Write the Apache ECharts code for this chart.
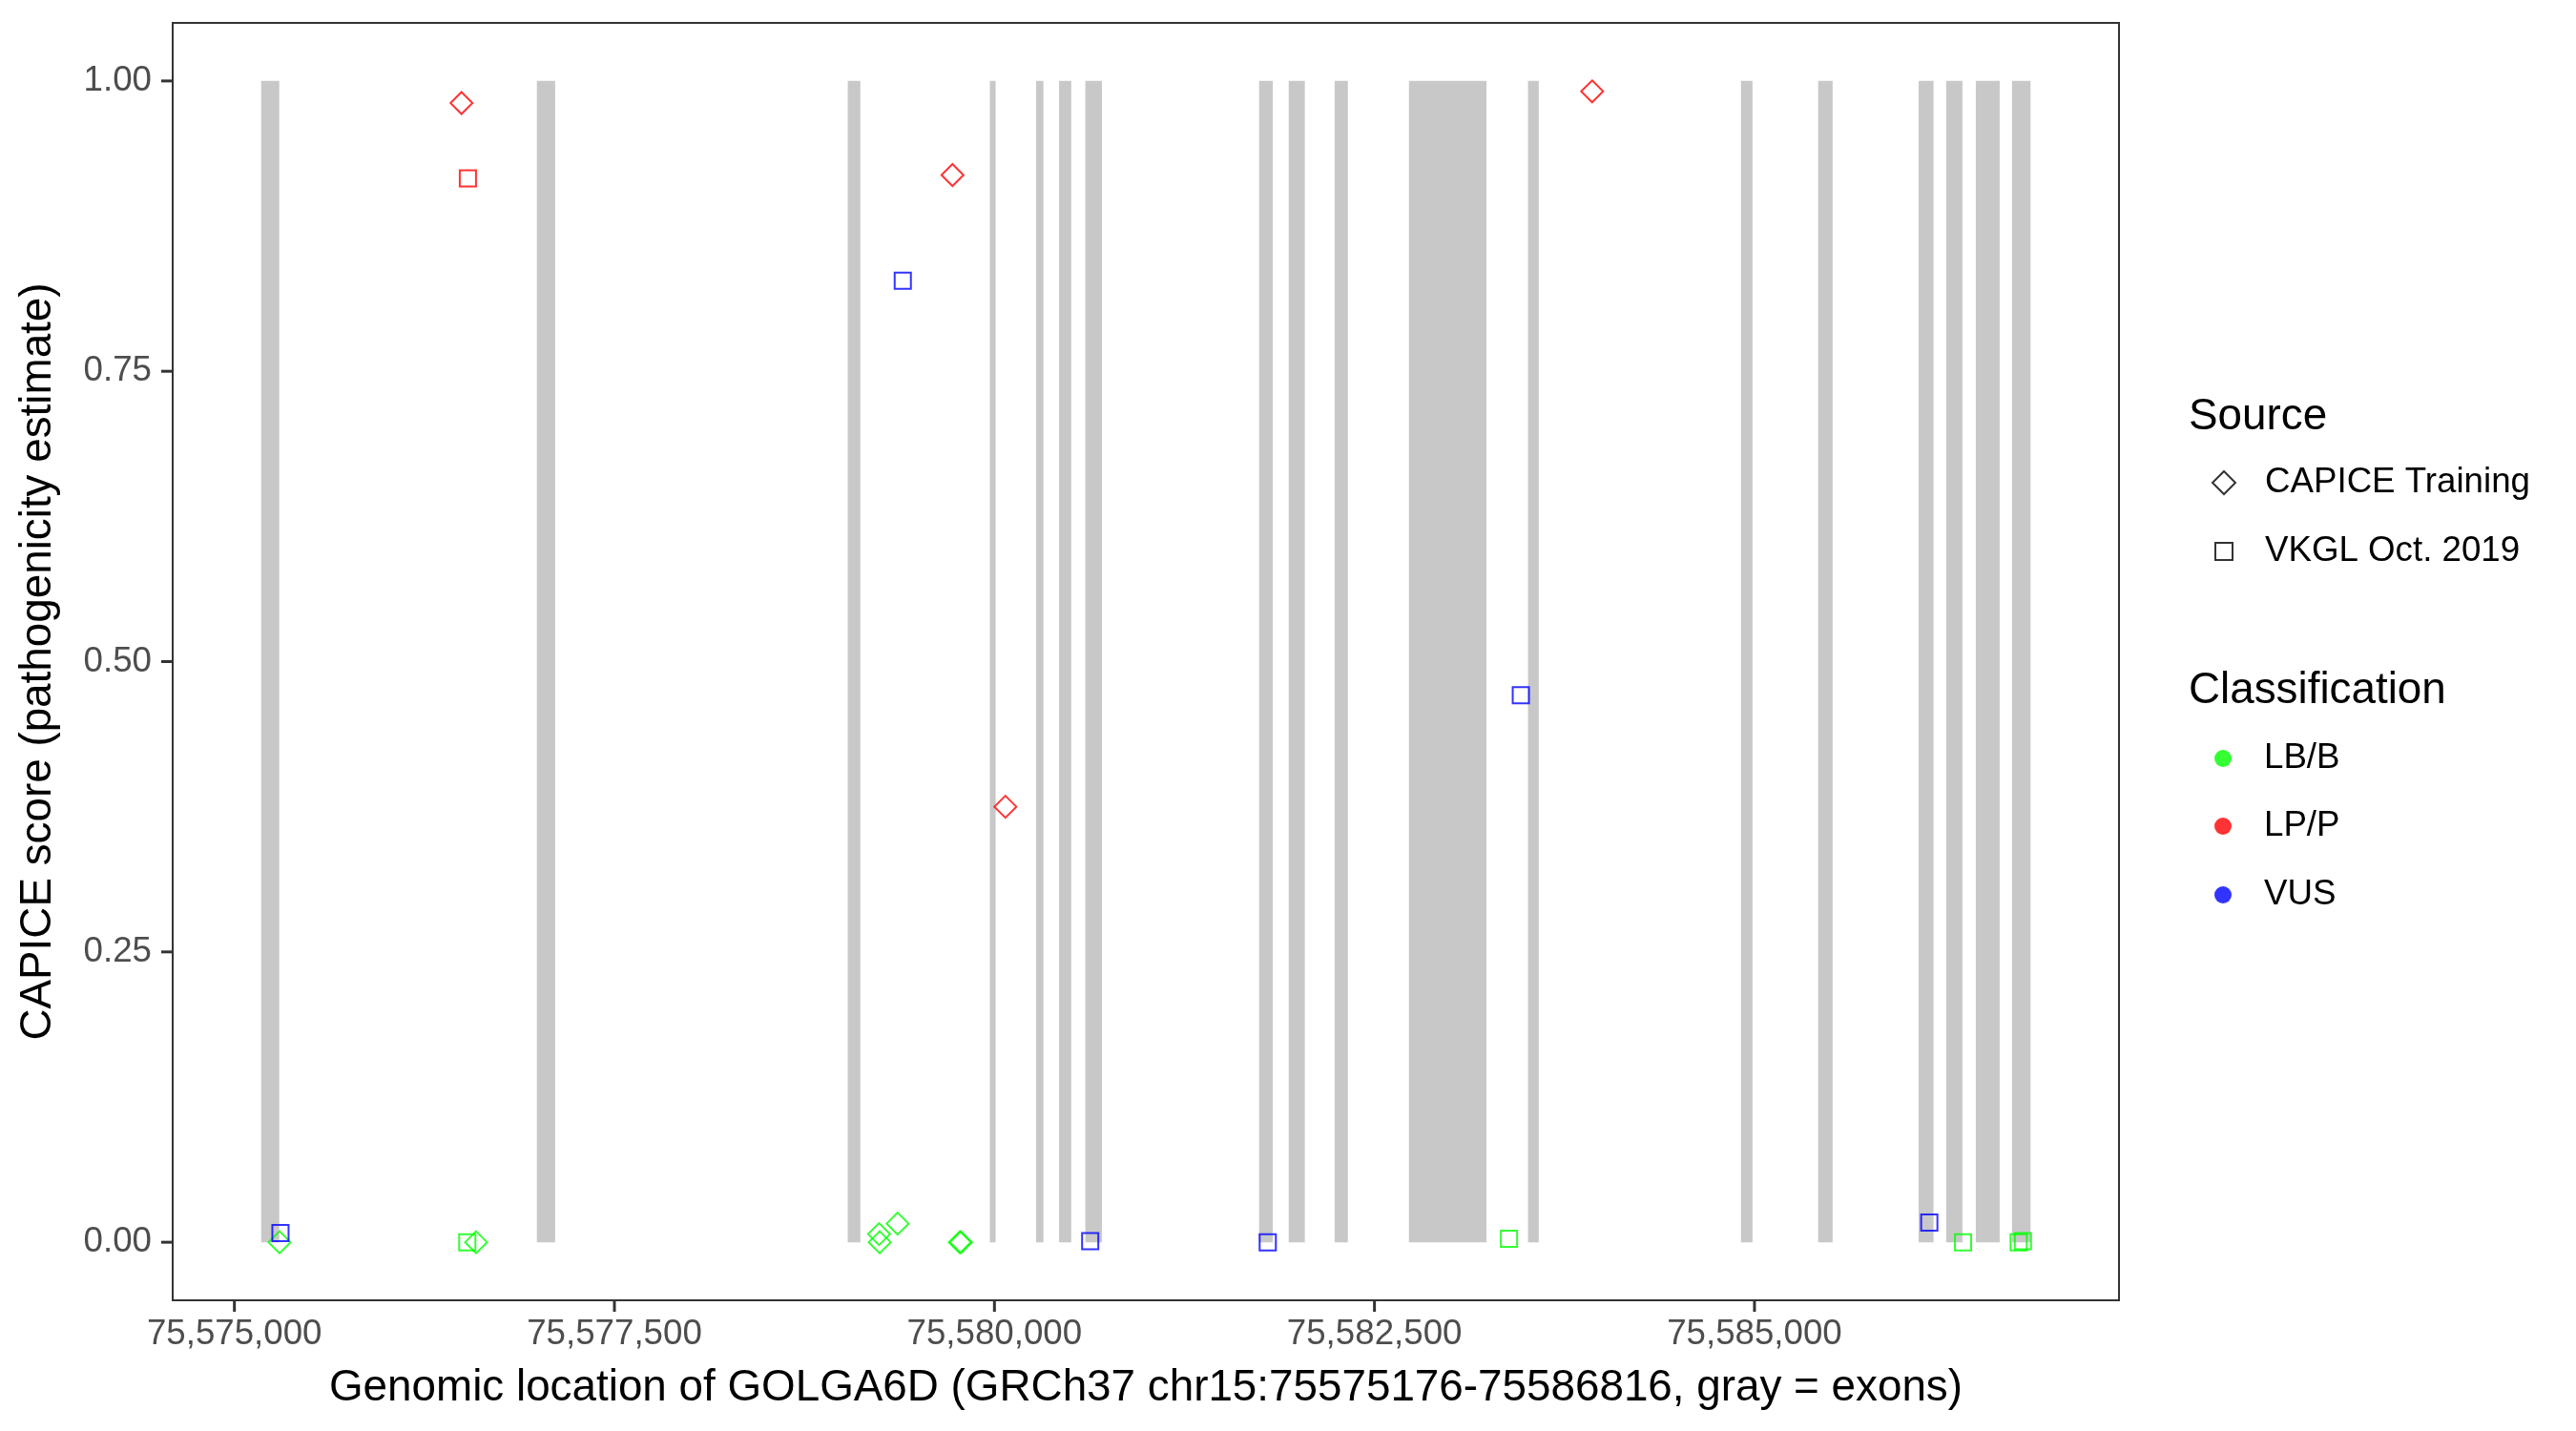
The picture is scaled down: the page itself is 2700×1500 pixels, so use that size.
<!DOCTYPE html>
<html>
<head>
<meta charset="utf-8">
<script src="https://cdn.jsdelivr.net/npm/echarts@6/dist/echarts.min.js"></script>
<style>
  html, body { margin: 0; padding: 0; background: #fff; }
  #chart { width: 2700px; height: 1500px; }
</style>
</head>
<body>
<div id="chart"></div>
<script>
// ---------- data ----------
const exonStart = [75575176, 75576990, 75579035, 75579970, 75580274, 75580425, 75580598, 75581741, 75581936, 75582238, 75582727, 75583510, 75584911, 75585419, 75586080, 75586261, 75586456, 75586694];
const exonEnd   = [75575295, 75577110, 75579118, 75580008, 75580322, 75580505, 75580707, 75581831, 75582042, 75582325, 75583237, 75583581, 75584987, 75585514, 75586178, 75586368, 75586613, 75586816];

// CAPICE Training (diamonds)
const capicePos   = [75576494, 75579724, 75580072, 75583932, 75575297, 75576590, 75579241, 75579245, 75579363, 75579772, 75579780];
const capiceScore = [0.981, 0.919, 0.375, 0.991, 0.000, 0.000, 0.007, 0.000, 0.016, 0.000, 0.000];
const capiceClass = ['LP/P', 'LP/P', 'LP/P', 'LP/P', 'LB/B', 'LB/B', 'LB/B', 'LB/B', 'LB/B', 'LB/B', 'LB/B'];

// VKGL Oct. 2019 (squares)
const vkglPos   = [75576536, 75579397, 75583463, 75575303, 75576532, 75580630, 75581798, 75583385, 75586150, 75586372, 75586738, 75586766];
const vkglScore = [0.916, 0.828, 0.471, 0.008, 0.000, 0.001, 0.000, 0.003, 0.017, 0.000, 0.000, 0.001];
const vkglClass = ['LP/P', 'VUS', 'VUS', 'VUS', 'LB/B', 'VUS', 'VUS', 'LB/B', 'VUS', 'LB/B', 'LB/B', 'LB/B'];

const classNames = ['LB/B', 'LP/P', 'VUS'];
const sourceNames = ['CAPICE Training', 'VKGL Oct. 2019'];
const xTicks = [75575000, 75577500, 75580000, 75582500, 75585000];
const yTicks = [0, 0.25, 0.5, 0.75, 1];
const xRange = [75574594, 75587398];
const yRange = [-0.05, 1.05];

// ---------- styles ----------
const FONT = '"Liberation Sans", Arial, Helvetica, sans-serif';
const classColor = { 'LB/B': '#00FF00', 'LP/P': '#FF0000', 'VUS': '#0000FF' };
const EXON = '#C8C8C8';
const CLEAR = 'rgba(0,0,0,0)';
const INK = '#333333';
const TICK_LEN = 12;

function fmtThousands(v) {
  const s = String(Math.round(v));
  return s.replace(/\B(?=(\d{3})+(?!\d))/g, ',');
}

const exonData = exonStart.map((s, i) => [s, exonEnd[i], 0, 1]);

function pointData(pos, score, cls) {
  return pos.map((p, i) => ({
    value: [p, score[i]],
    itemStyle: { color: CLEAR, borderColor: classColor[cls[i]], borderWidth: 2 }
  }));
}

const chart = echarts.init(document.getElementById('chart'), null, { renderer: 'canvas' });

const legendText = { fontFamily: FONT, fontSize: 36.7, color: '#000000' };

const option = {
  animation: false,
  backgroundColor: '#ffffff',
  title: [
    { text: 'Source', left: 2294, top: 414, padding: 0,
      textStyle: { fontFamily: FONT, fontSize: 45.8, fontWeight: 'normal', color: '#000', lineHeight: 46 } },
    { text: 'Classification', left: 2294, top: 701, padding: 0,
      textStyle: { fontFamily: FONT, fontSize: 45.8, fontWeight: 'normal', color: '#000', lineHeight: 46 } }
  ],
  legend: [
    { data: [{ name: 'CAPICE Training', icon: 'diamond', itemStyle: { color: CLEAR, borderColor: '#000', borderWidth: 2 } }],
      left: 2318, top: 487.5, itemWidth: 24, itemHeight: 24, padding: 0, selectedMode: false,
      textStyle: Object.assign({ padding: [0, 0, 0, 26] }, legendText) },
    { data: [{ name: 'VKGL Oct. 2019', icon: 'rect', itemStyle: { color: CLEAR, borderColor: '#000', borderWidth: 2 } }],
      left: 2321, top: 559.5, itemWidth: 18, itemHeight: 18, padding: 0, selectedMode: false,
      textStyle: Object.assign({ padding: [0, 0, 0, 29] }, legendText) },
    { data: [{ name: 'LB/B', icon: 'circle', itemStyle: { color: classColor['LB/B'], borderWidth: 0 } }],
      left: 2321, top: 776.5, itemWidth: 18, itemHeight: 18, padding: 0, selectedMode: false,
      textStyle: Object.assign({ padding: [0, 0, 0, 29] }, legendText) },
    { data: [{ name: 'LP/P', icon: 'circle', itemStyle: { color: classColor['LP/P'], borderWidth: 0 } }],
      left: 2321, top: 847.5, itemWidth: 18, itemHeight: 18, padding: 0, selectedMode: false,
      textStyle: Object.assign({ padding: [0, 0, 0, 29] }, legendText) },
    { data: [{ name: 'VUS', icon: 'circle', itemStyle: { color: classColor['VUS'], borderWidth: 0 } }],
      left: 2321, top: 919.5, itemWidth: 18, itemHeight: 18, padding: 0, selectedMode: false,
      textStyle: Object.assign({ padding: [0, 0, 0, 29] }, legendText) }
  ],
  grid: {
    left: 181, right: 479, top: 24, bottom: 137,
    show: true, borderColor: INK, borderWidth: 2, backgroundColor: '#ffffff',
    containLabel: false
  },
  xAxis: {
    type: 'value', min: xRange[0], max: xRange[1], position: 'bottom',
    name: 'Genomic location of GOLGA6D (GRCh37 chr15:75575176-75586816, gray = exons)',
    nameLocation: 'middle', nameGap: 69,
    nameTextStyle: { fontFamily: FONT, fontSize: 45.8, color: '#000' },
    axisLine: { show: true, onZero: false, lineStyle: { color: INK, width: 2 } },
    axisTick: { show: false },
    axisLabel: { show: true, margin: 17, fontFamily: FONT, fontSize: 36.7, color: '#4D4D4D',
      customValues: xTicks, formatter: v => fmtThousands(v) },
    splitLine: { show: false }
  },
  yAxis: {
    type: 'value', min: yRange[0], max: yRange[1], position: 'left',
    name: 'CAPICE score (pathogenicity estimate)',
    nameLocation: 'middle', nameGap: 118, nameRotate: 90,
    nameTextStyle: { fontFamily: FONT, fontSize: 45.8, color: '#000' },
    axisLine: { show: true, onZero: false, lineStyle: { color: INK, width: 2 } },
    axisTick: { show: false },
    axisLabel: { show: true, margin: 22, fontFamily: FONT, fontSize: 36.7, color: '#4D4D4D',
      customValues: yTicks, formatter: v => v.toFixed(2) },
    splitLine: { show: false }
  },
  series: [
    {
      name: 'exons', type: 'custom', z: 1, silent: true,
      data: exonData,
      encode: { x: [0, 1], y: [2, 3] },
      renderItem: function (params, api) {
        const p0 = api.coord([api.value(0), api.value(3)]);
        const p1 = api.coord([api.value(1), api.value(2)]);
        return {
          type: 'rect',
          shape: { x: p0[0], y: p0[1], width: p1[0] - p0[0], height: p1[1] - p0[1] },
          style: { fill: EXON }
        };
      }
    },
    {
      name: 'capice-points', type: 'scatter', z: 3, silent: true,
      symbol: 'diamond', symbolSize: 23,
      data: pointData(capicePos, capiceScore, capiceClass)
    },
    {
      name: 'vkgl-points', type: 'scatter', z: 3, silent: true,
      symbol: 'rect', symbolSize: 17,
      data: pointData(vkglPos, vkglScore, vkglClass)
    },
    // outward axis tick marks, placed through the axes' scales
    {
      name: 'x-ticks', type: 'custom', z: 5, silent: true, clip: false,
      data: xTicks.map(v => [v, yRange[0]]),
      encode: { x: 0, y: 1 },
      renderItem: function (params, api) {
        const p = api.coord([api.value(0), api.value(1)]);
        return { type: 'line', shape: { x1: p[0], y1: p[1], x2: p[0], y2: p[1] + TICK_LEN },
          style: { stroke: INK, lineWidth: 3 } };
      }
    },
    {
      name: 'y-ticks', type: 'custom', z: 5, silent: true, clip: false,
      data: yTicks.map(v => [xRange[0], v]),
      encode: { x: 0, y: 1 },
      renderItem: function (params, api) {
        const p = api.coord([api.value(0), api.value(1)]);
        return { type: 'line', shape: { x1: p[0] - TICK_LEN, y1: p[1], x2: p[0], y2: p[1] },
          style: { stroke: INK, lineWidth: 3 } };
      }
    },
    // legend-only series
    { name: 'CAPICE Training', type: 'scatter', data: [], symbol: 'diamond',
      itemStyle: { color: CLEAR, borderColor: '#000', borderWidth: 2 } },
    { name: 'VKGL Oct. 2019', type: 'scatter', data: [], symbol: 'rect',
      itemStyle: { color: CLEAR, borderColor: '#000', borderWidth: 2 } },
    { name: 'LB/B', type: 'scatter', data: [], symbol: 'circle', itemStyle: { color: classColor['LB/B'] } },
    { name: 'LP/P', type: 'scatter', data: [], symbol: 'circle', itemStyle: { color: classColor['LP/P'] } },
    { name: 'VUS', type: 'scatter', data: [], symbol: 'circle', itemStyle: { color: classColor['VUS'] } }
  ]
};

chart.setOption(option);
</script>
</body>
</html>
